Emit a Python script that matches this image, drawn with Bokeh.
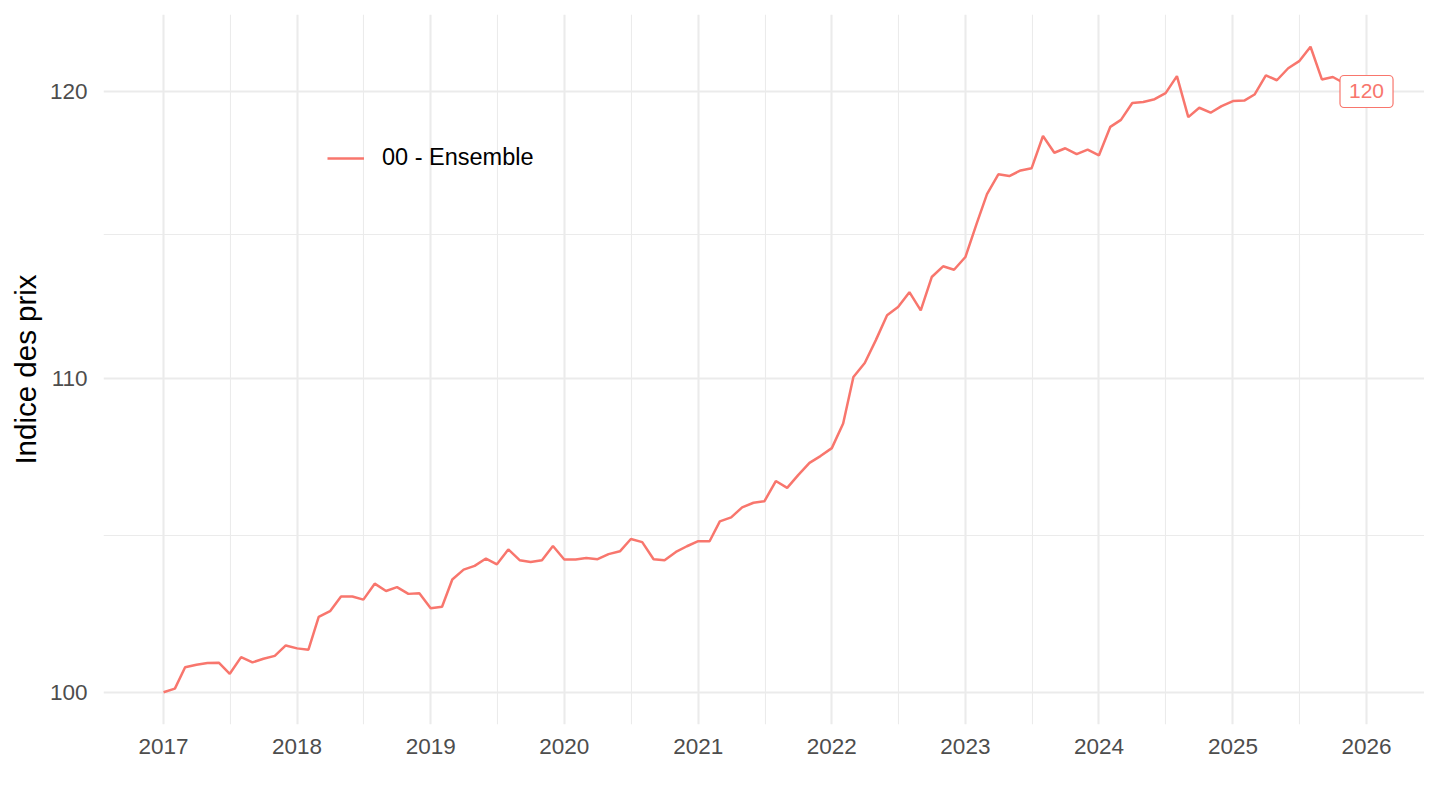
import math
import pandas as pd
from bokeh.plotting import figure
from bokeh.models import (Range1d, FixedTicker, DatetimeTickFormatter, NumeralTickFormatter,
                          Legend, LegendItem, Label, ColumnDataSource)
from bokeh.embed import file_html
from bokeh.resources import INLINE

# ---- data ----
start_month = "2017-01-01"
series_name = "00 - Ensemble"
values = [
    100.00, 100.11, 100.76, 100.84, 100.89, 100.90, 100.56, 101.07, 100.91, 101.02, 101.11, 101.43,
    101.34, 101.30, 102.31, 102.49, 102.95, 102.95, 102.85, 103.35, 103.12, 103.24, 103.03, 103.05,
    102.58, 102.63, 103.48, 103.79, 103.91, 104.14, 103.96, 104.43, 104.09, 104.03, 104.09, 104.54,
    104.11, 104.11, 104.16, 104.12, 104.28, 104.37, 104.76, 104.66, 104.12, 104.09, 104.35, 104.53,
    104.69, 104.69, 105.32, 105.45, 105.77, 105.92, 105.97, 106.62, 106.40, 106.81, 107.21, 107.43,
    107.69, 108.50, 110.04, 110.51, 111.27, 112.12, 112.40, 112.91, 112.29, 113.43, 113.80, 113.68,
    114.12, 115.29, 116.32, 117.02, 116.96, 117.16, 117.24, 118.39, 117.79, 117.95, 117.74, 117.90,
    117.70, 118.72, 118.97, 119.58, 119.62, 119.72, 119.94, 120.56, 119.07, 119.41, 119.23, 119.47,
    119.65, 119.67, 119.89, 120.59, 120.41, 120.85, 121.11, 121.64, 120.44, 120.53, 120.30,
]
year_ticks = list(range(2017, 2027))
y_ticks = [100, 110, 120]
label_date = "2026-01-01"

COL = "#F8766D"
GRID = "#EBEBEB"
FONT = "Liberation Sans"

dates = pd.date_range(start_month, periods=len(values), freq="MS")
src = ColumnDataSource(dict(x=dates, y=values))

label_value = round(values[-1])
lab_ts = pd.Timestamp(label_date)

# ranges (ggplot-like expansion; right side slightly tighter to fit the page)
x0 = dates[0]
x1 = lab_ts
span = x1 - x0
xr = Range1d(x0 - span * 0.0499, x1 + span * 0.0482)
lmin, lmax = math.log(min(values)), math.log(max(values))
ypad = (lmax - lmin) * 0.05
yr = Range1d(math.exp(lmin - ypad), math.exp(lmax + ypad))

p = figure(width=1424, height=794, x_axis_type="datetime", y_axis_type="log",
           x_range=xr, y_range=yr, output_backend="svg", toolbar_location=None,
           min_border_left=103, min_border_right=0, min_border_top=14, min_border_bottom=70)
p.outline_line_color = None
p.background_fill_color = "white"
p.border_fill_color = "white"

def ms(ts):
    return pd.Timestamp(ts).value / 1e6

major_x = [ms(f"{y}-01-01") for y in year_ticks]
minor_x = [(a + b) / 2 for a, b in zip(major_x[:-1], major_x[1:])]
p.xaxis.ticker = FixedTicker(ticks=major_x, minor_ticks=minor_x)
p.xaxis.formatter = DatetimeTickFormatter(years="%Y", months="%Y", days="%Y", hours="%Y")

minor_y = [math.sqrt(a * b) for a, b in zip(y_ticks[:-1], y_ticks[1:])]
p.yaxis.ticker = FixedTicker(ticks=y_ticks, minor_ticks=minor_y)
p.yaxis.formatter = NumeralTickFormatter(format="0")

for ax in (p.xaxis[0], p.yaxis[0]):
    ax.axis_line_color = None
    ax.major_tick_line_color = None
    ax.minor_tick_line_color = None
    ax.major_tick_out = 0
    ax.minor_tick_out = 0
    ax.major_label_text_font = FONT
    ax.major_label_text_font_size = "22.5px"
    ax.major_label_text_color = "#4D4D4D"
p.xaxis.major_label_standoff = 14
p.yaxis.major_label_standoff = 16
p.yaxis.axis_label = "Indice des prix"
p.yaxis.axis_label_text_font = FONT
p.yaxis.axis_label_text_font_size = "29.5px"
p.yaxis.axis_label_text_font_style = "normal"
p.yaxis.axis_label_text_color = "black"
p.yaxis.axis_label_standoff = 5

for g in (p.xgrid[0], p.ygrid[0]):
    g.grid_line_color = GRID
    g.grid_line_width = 2.1
    g.minor_grid_line_color = GRID
    g.minor_grid_line_width = 1.1

r = p.line("x", "y", source=src, line_color=COL, line_width=2.5)

legend = Legend(items=[LegendItem(label=series_name, renderers=[r])],
                location=(224, 553), padding=0, margin=0, spacing=0,
                glyph_width=37, glyph_height=24, label_height=24, label_standoff=18,
                label_text_font=FONT, label_text_font_size="23.5px", label_text_color="black",
                background_fill_alpha=0, border_line_color=None)
p.add_layout(legend)

lab = Label(x=ms(label_date), y=label_value, text=str(label_value),
            text_align="center", text_baseline="middle",
            text_font=FONT, text_font_size="21px", text_color=COL,
            background_fill_color="white", border_line_color=COL, border_line_width=1.2,
            padding=9, border_radius=4)
p.add_layout(lab)

open("out.html", "w").write(file_html(p, INLINE))
